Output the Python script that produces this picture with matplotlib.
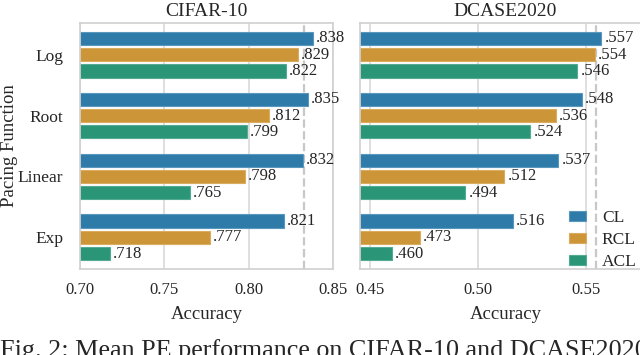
import matplotlib.pyplot as plt
import numpy as np
import seaborn as sns

pacing = ["Log", "Root", "Linear", "Exp"]
methods = ["CL", "RCL", "ACL"]

cifar_cl = [0.838, 0.835, 0.832, 0.821]
cifar_rcl = [0.829, 0.812, 0.798, 0.777]
cifar_acl = [0.822, 0.799, 0.765, 0.718]
cifar_ref = 0.833

dcase_cl = [0.557, 0.548, 0.537, 0.516]
dcase_rcl = [0.554, 0.536, 0.512, 0.473]
dcase_acl = [0.546, 0.524, 0.494, 0.460]
dcase_ref = 0.5546

sns.set_style("whitegrid")
plt.rcParams["font.family"] = ["Liberation Serif", "DejaVu Serif"]

colors = ["#2e7ba9", "#cc9537", "#2a9677"]
edges = ["#5a97bd", "#d9ac5f", "#52ab92"]

W, H = 640, 355
fig = plt.figure(figsize=(6.4, 3.55), dpi=100)

def px_axes(x0, x1, y0, y1):
    return fig.add_axes([x0 / W, 1 - y1 / H, (x1 - x0) / W, (y1 - y0) / H])

ax1 = px_axes(80, 333, 23, 269)
ax2 = px_axes(360, 651, 23, 269)

panels = [
    (ax1, "CIFAR-10", [cifar_cl, cifar_rcl, cifar_acl], cifar_ref, (0.70, 0.848), [0.70, 0.75, 0.80, 0.85]),
    (ax2, "DCASE2020", [dcase_cl, dcase_rcl, dcase_acl], dcase_ref, (0.4454, 0.58), [0.45, 0.50, 0.55]),
]

y = np.arange(len(pacing))
pitch = 0.8 / 3
for ax, title, series, ref, xlim, ticks in panels:
    for i, (vals, c, e, name) in enumerate(zip(series, colors, edges, methods)):
        pos = y - pitch + i * pitch
        ax.barh(pos, np.array(vals) - xlim[0], left=xlim[0], height=0.22,
                color=c, edgecolor=e, lw=0.8, label=name, zorder=2)
        for p, v in zip(pos, vals):
            ax.text(v + (xlim[1] - xlim[0]) * 0.012, p, ("%.3f" % v)[1:],
                    va="center", ha="left", fontsize=12)
    ax.axvline(ref, color="#c8c8c8", linestyle="--", lw=1.6, zorder=1)
    ax.set_xlim(*xlim)
    ax.set_ylim(3.52, -0.52)
    ax.set_xticks(ticks)
    ax.set_xticklabels(["%.2f" % t for t in ticks], fontsize=12)
    ax.set_yticks(y)
    ax.grid(axis="y", visible=False)
    ax.grid(axis="x", color="#d9d9d9", lw=1.2)
    for s in ax.spines.values():
        s.set_color("#d0d0d0")
        s.set_linewidth(1.2)
    ax.set_title(title, fontsize=14, pad=5)
    ax.set_xlabel("Accuracy", fontsize=13.5, labelpad=6)
    ax.tick_params(axis="x", length=0, pad=9)
    ax.tick_params(axis="y", length=0, pad=12)

ax1.set_yticklabels(pacing, fontsize=12.5)
ax1.set_ylabel("Pacing Function", fontsize=13.5)
ax1.yaxis.set_label_coords(-62 / 253, 0.5)
ax2.set_yticklabels([])

handles, labels = ax2.get_legend_handles_labels()
fig.legend(handles, labels, loc="upper left", bbox_to_anchor=(562 / W, 1 - 203 / H),
           frameon=False, fontsize=12.5, handlelength=1.0, handleheight=0.5,
           labelspacing=0.35, handletextpad=0.9, borderaxespad=0)

fig.text(0, 1 - 339 / H, "Fig. 2: Mean PE performance on CIFAR-10 and DCASE2020",
         fontsize=18.8, va="top", ha="left")

fig.savefig("out.png", dpi=100)
